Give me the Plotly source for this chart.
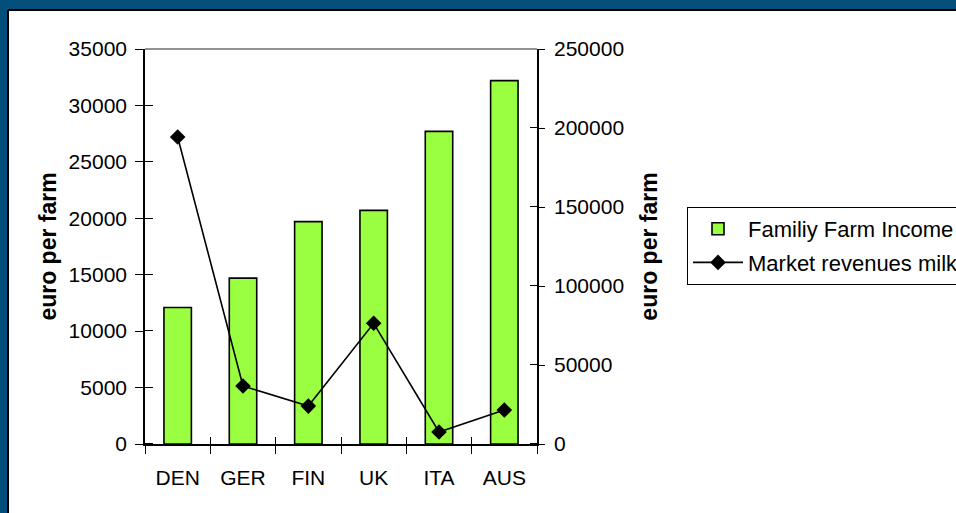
import plotly.graph_objects as go

# Data
countries = ["DEN", "GER", "FIN", "UK", "ITA", "AUS"]
family_farm_income = [12100, 14700, 19700, 20700, 27700, 32200]
market_revenues_milk = [194300, 36700, 24000, 76400, 7600, 21500]

left_ticks = [0, 5000, 10000, 15000, 20000, 25000, 30000, 35000]
right_ticks = [0, 50000, 100000, 150000, 200000, 250000]

# Page geometry (pixels)
W, H = 956, 513
L, R, T, B = 145, 537, 49, 444
FONT = "Liberation Sans, Arial, sans-serif"
FRAME = "#034E7B"


def px_x(x):
    return (x - L) / (R - L)


def px_y(y):
    return (B - y) / (B - T)


fig = go.Figure()

fig.add_trace(go.Bar(
    x=countries, y=family_farm_income, name="Familiy Farm Income",
    marker=dict(color="#99FF40", line=dict(color="black", width=1.6)),
    xaxis="x", yaxis="y", legendgroup="a",
))
fig.add_trace(go.Scatter(
    x=countries, y=market_revenues_milk, name="Market revenues milk",
    mode="lines+markers", xaxis="x2", yaxis="y2", legendgroup="b",
    line=dict(color="black", width=1.6),
    marker=dict(symbol="diamond", size=12, color="black"),
))

tickfont = dict(family=FONT, size=21, color="black")
titlefont = dict(family=FONT, size=23, color="black", weight="bold")

# tick marks cross the axis lines: major ticks outside, minor ticks
# (nudged by a hair so they are not merged with the major ones) inside
left_inner = [v + 20 for v in left_ticks]
right_inner = [v + 130 for v in right_ticks]

fig.update_layout(
    width=W, height=H,
    margin=dict(l=L, r=W - R, t=T, b=H - B, autoexpand=False),
    paper_bgcolor="white",
    plot_bgcolor="rgba(0,0,0,0)",
    bargap=0.58,
    showlegend=True,
    legend=dict(
        x=px_x(687), y=px_y(207), xanchor="left", yanchor="top",
        bgcolor="white", bordercolor="black", borderwidth=1,
        font=dict(family=FONT, size=22, color="black"),
        traceorder="grouped", tracegroupgap=2, itemwidth=50,
    ),
    xaxis=dict(
        type="category", categoryorder="array", categoryarray=countries,
        range=[-0.5, len(countries) - 0.5],
        tickson="boundaries", ticks="outside", ticklen=8, tickwidth=1.3,
        tickcolor="black", showline=True, linecolor="black", linewidth=1.6,
        showgrid=False, zeroline=False, tickfont=tickfont,
        ticklabelstandoff=14,
    ),
    xaxis2=dict(
        type="category", categoryorder="array", categoryarray=countries,
        overlaying="x", anchor="y2", side="bottom",
        range=[-0.5, len(countries) - 0.5],
        tickson="boundaries", ticks="inside", ticklen=7, tickwidth=1.3,
        tickcolor="black", showticklabels=False, showgrid=False,
        zeroline=False, showline=False,
    ),
    yaxis=dict(
        range=[0, 35000], tickvals=left_ticks, tickformat="d",
        ticks="outside", ticklen=8, tickwidth=1.3, tickcolor="black",
        showline=True, linecolor="black", linewidth=1.6,
        showgrid=False, zeroline=False, tickfont=tickfont,
        ticklabelstandoff=4,
        minor=dict(tickmode="array", tickvals=left_inner, ticks="inside",
                   ticklen=8, tickwidth=1.3, tickcolor="black",
                   showgrid=False),
        title=dict(text="euro per farm", font=titlefont, standoff=6),
    ),
    yaxis2=dict(
        overlaying="y", anchor="x", side="right", range=[0, 250000],
        tickvals=right_ticks, tickformat="d",
        ticks="outside", ticklen=6, tickwidth=1.3, tickcolor="black",
        showline=True, linecolor="black", linewidth=1.6,
        showgrid=False, zeroline=False, tickfont=tickfont,
        ticklabelstandoff=5,
        minor=dict(tickmode="array", tickvals=right_inner, ticks="inside",
                   ticklen=7, tickwidth=1.3, tickcolor="black",
                   showgrid=False),
        title=dict(text="euro per farm", font=titlefont, standoff=18),
    ),
    shapes=[
        # blue frame along the top and left edges of the slide
        dict(type="rect", xref="paper", yref="paper", layer="below",
             x0=px_x(-20), x1=px_x(W + 20), y0=px_y(10), y1=px_y(-20),
             fillcolor=FRAME, line=dict(width=0)),
        dict(type="rect", xref="paper", yref="paper", layer="below",
             x0=px_x(-20), x1=px_x(8), y0=px_y(H + 20), y1=px_y(-20),
             fillcolor=FRAME, line=dict(width=0)),
        # dark edge of the white slide area
        dict(type="line", xref="paper", yref="paper", layer="below",
             x0=px_x(8), x1=px_x(W + 20), y0=px_y(10), y1=px_y(10),
             line=dict(color="black", width=2)),
        dict(type="line", xref="paper", yref="paper", layer="below",
             x0=px_x(8), x1=px_x(8), y0=px_y(10), y1=px_y(H + 20),
             line=dict(color="black", width=2)),
        # top edge of the plot area
        dict(type="line", xref="paper", yref="paper", layer="above",
             x0=0, x1=1, y0=1, y1=1, line=dict(color="#6f6f6f", width=1.4)),
    ],
)

fig.write_html("out.html")
